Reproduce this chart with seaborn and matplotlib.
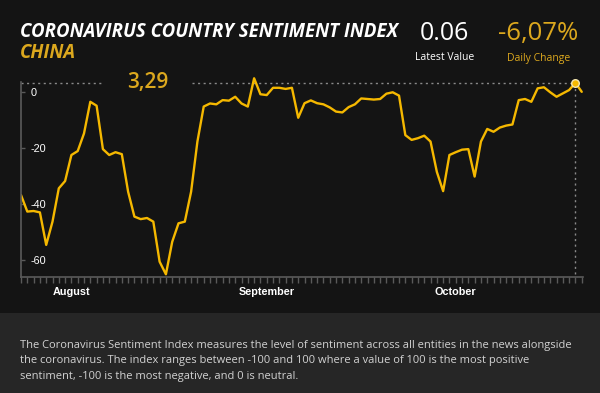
import matplotlib
matplotlib.use("Agg")
import matplotlib.pyplot as plt
import matplotlib.dates as mdates
from matplotlib.patches import Rectangle
import numpy as np
import pandas as pd
import seaborn as sns

# ---------------- data ----------------
start_date = "2020-07-24"
sentiment = [
    -36.8, -42.7, -42.5, -43.0, -54.6, -46.3, -34.4, -31.8, -22.5, -21.1,
    -14.8, -3.5, -4.9, -20.4, -22.5, -21.5, -22.2, -35.6, -44.5, -45.4,
    -45.0, -46.3, -60.6, -65.1, -53.5, -46.9, -46.3, -35.6, -17.7, -5.2,
    -4.1, -4.4, -2.9, -3.1, -1.7, -4.1, -5.2, 4.9, -0.8, -1.1,
    1.5, 1.5, 1.1, 1.5, -9.2, -4.0, -3.0, -4.0, -4.4, -5.5,
    -7.0, -7.3, -5.4, -4.4, -2.3, -2.5, -2.7, -2.5, -0.6, -0.1,
    -1.3, -15.4, -17.1, -16.5, -15.6, -17.7, -28.5, -35.4, -22.5, -21.5,
    -20.6, -20.4, -30.2, -17.7, -13.2, -14.2, -12.7, -12.0, -11.6, -2.9,
    -2.5, -3.5, 1.3, 1.7, -0.1, -1.7, -0.5, 0.7, 3.29, 0.06,
]
highlight_index = 88
yticks = [0, -20, -40, -60]
title_text = "CORONAVIRUS COUNTRY SENTIMENT INDEX"
country_text = "CHINA"
latest_value = "0.06"
daily_change = "-6,07%"
highlight_label = "3,29"
description = ("The Coronavirus Sentiment Index measures the level of sentiment across all entities in the news alongside\n"
               "the coronavirus. The index ranges between -100 and 100 where a value of 100 is the most positive\n"
               "sentiment, -100 is the most negative, and 0 is neutral.")

dates = pd.date_range(start_date, periods=len(sentiment), freq="D")
df = pd.DataFrame({"date": dates, "value": sentiment})

# ---------------- style ----------------
BG = "#141414"
PANEL = "#262626"
LINE = "#f5b800"
GOLD = "#dca81e"
GREY = "#5a5a5a"

sns.set_theme(style="dark")
plt.rcParams["font.family"] = ["Liberation Sans", "DejaVu Sans"]

W, H = 600, 393
fig = plt.figure(figsize=(W / 100, H / 100), dpi=100, facecolor=BG)

def fx(x):
    return x / W

def fy(y):
    return 1 - y / H

fig.patches.append(Rectangle((0, 0), 1, fy(313), transform=fig.transFigure,
                             facecolor=PANEL, edgecolor="none", zorder=0))

ymin, ymax = -66.07, 5.5
ax = fig.add_axes([fx(21), fy(277), fx(583) - fx(21), fy(76.6) - fy(277)])
ax.set_facecolor(BG)
ax.patch.set_alpha(0)

sns.lineplot(data=df, x="date", y="value", ax=ax, color=LINE, linewidth=1.7,
             solid_joinstyle="round", solid_capstyle="round")

hx = dates[highlight_index]
hy = sentiment[highlight_index]
ax.set_xlim(dates[0], dates[0] + pd.Timedelta(days=89.2))
ax.set_ylim(ymin, ymax)

# dotted reference lines
x0 = mdates.date2num(dates[0])
x_h = mdates.date2num(hx)
span = mdates.date2num(dates[0] + pd.Timedelta(days=89.2)) - x0
def xn(px):
    return x0 + (px - 21) / (583 - 21) * span
ax.plot([x0, xn(104)], [hy, hy], color="#8a8a8a", lw=1, ls=(0, (1.5, 2.5)), zorder=1)
ax.plot([xn(192), x_h], [hy, hy], color="#8a8a8a", lw=1, ls=(0, (1.5, 2.5)), zorder=1)
ax.plot([x_h, x_h], [hy, ymin], color="#8a8a8a", lw=1, ls=(0, (1.5, 2.5)), zorder=1)
ax.scatter([hx], [hy], s=30, color=LINE, edgecolor="#f3e6b0", linewidth=1.0, zorder=5)

ax.text(0.5 * (xn(104) + xn(192)), hy, highlight_label, color=GOLD, fontsize=15,
        family=["Open Sans", "DejaVu Sans"], fontweight="semibold",
        ha="center", va="center")

# axes styling
for s in ["top", "right"]:
    ax.spines[s].set_visible(False)
for s in ["left", "bottom"]:
    ax.spines[s].set_color(GREY)
    ax.spines[s].set_linewidth(1.2)
ax.spines["left"].set_bounds(ymin, 3.5)
ax.grid(False)

ax.set_yticks(yticks)
ax.set_yticklabels([str(v) for v in yticks])
ax.tick_params(axis="y", direction="in", length=3, width=1, color=GREY,
               pad=-7, labelcolor="white", labelsize=7.8, left=True)
for lab in ax.get_yticklabels():
    lab.set_horizontalalignment("left")

ax.xaxis.set_major_locator(mdates.MonthLocator())
ax.xaxis.set_major_formatter(mdates.DateFormatter("%B"))
ax.xaxis.set_minor_locator(mdates.DayLocator())
ax.tick_params(axis="x", which="both", direction="out", length=4, width=1,
               color=GREY, bottom=True)
ax.tick_params(axis="x", which="major", pad=3, labelcolor="white", labelsize=7.8)
for lab in ax.get_xticklabels():
    lab.set_fontweight("semibold")
ax.set_xlabel("")
ax.set_ylabel("")

# header texts
fig.text(fx(20), fy(32), title_text, color="white", fontsize=13.4, fontweight="bold",
         fontstyle="italic", family=["Open Sans", "DejaVu Sans"], ha="left", va="center")
fig.text(fx(20), fy(53), country_text, color=GOLD, fontsize=13.4, fontweight="bold",
         fontstyle="italic", family=["Open Sans", "DejaVu Sans"], ha="left", va="center")
fig.text(fx(444), fy(33.5), latest_value, color="white", fontsize=18,
         family=["Open Sans", "DejaVu Sans"], ha="center", va="center")
fig.text(fx(445), fy(58), "Latest Value", color="white", fontsize=7.5,
         family=["Open Sans", "DejaVu Sans"], ha="center", va="center")
fig.text(fx(538), fy(33.5), daily_change, color=GOLD, fontsize=18.5,
         family=["Open Sans", "DejaVu Sans"], ha="center", va="center")
fig.text(fx(538.5), fy(58), "Daily Change", color=GOLD, fontsize=7.5,
         family=["Open Sans", "DejaVu Sans"], ha="center", va="center")

fig.text(fx(20), fy(361), description, color="#d2d2d2", fontsize=8.0,
         family=["Open Sans", "DejaVu Sans"], ha="left", va="center", linespacing=1.55)

fig.savefig("out.png", dpi=100, facecolor=BG)
